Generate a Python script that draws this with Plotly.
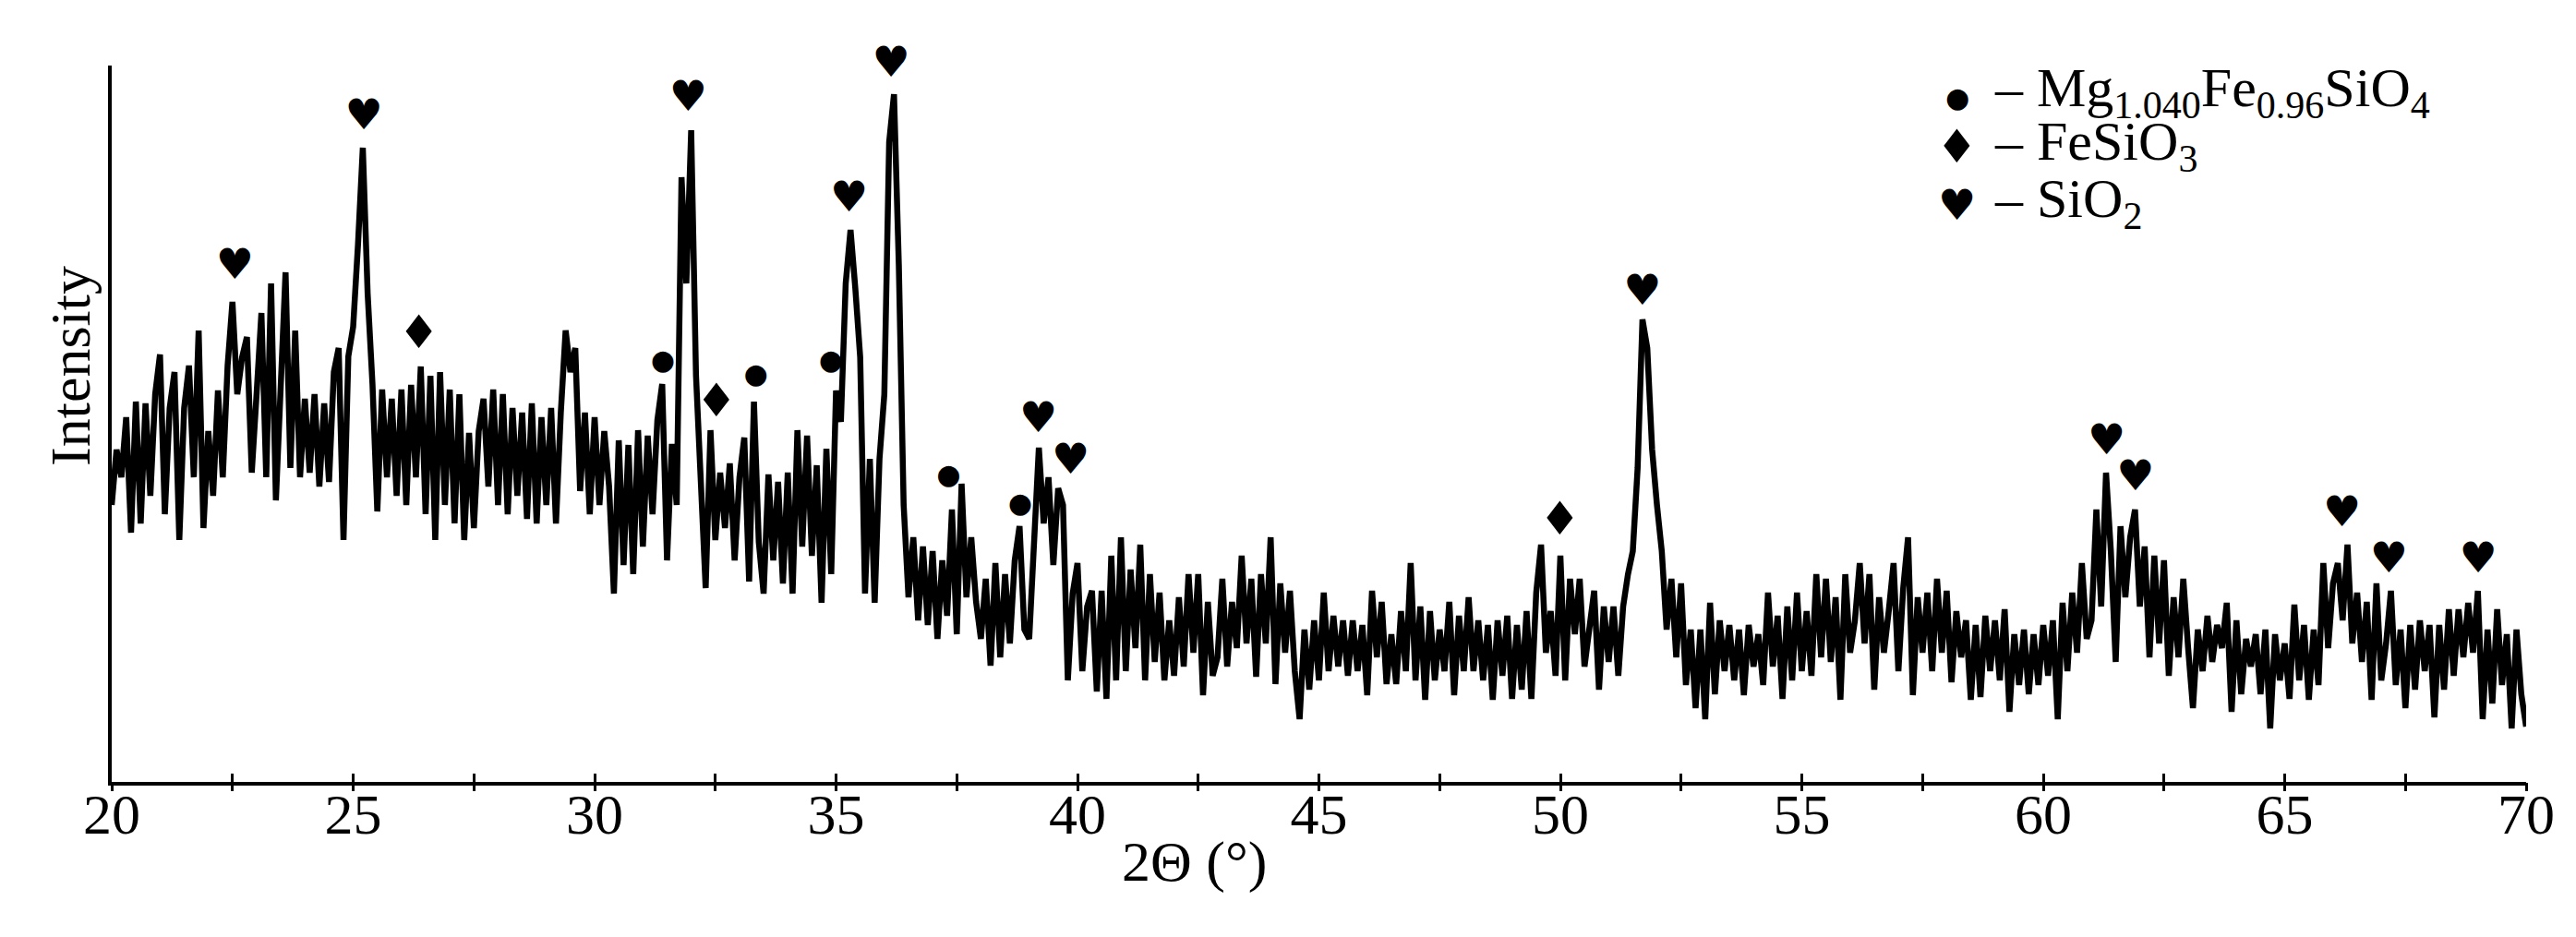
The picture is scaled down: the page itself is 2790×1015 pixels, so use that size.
import numpy as np
import plotly.graph_objects as go

# XRD pattern, 0.1 deg steps from 20.0 to 70.0 (arb. units)
two_theta_start = 20.0
two_theta_step = 0.1

intensity_20_30 = [
    300, 360, 330, 395, 270, 412, 280, 410, 310, 420,
    463, 290, 405, 444, 262, 405, 451, 330, 489, 275,
    380, 310, 424, 330, 451, 520, 420, 460, 482, 335,
    420, 508, 330, 540, 305, 420, 552, 340, 489, 330,
    415, 335, 420, 320, 410, 325, 444, 470, 262, 461,
    493, 582, 687, 529, 431, 293, 425, 330, 415, 310,
    425, 300, 430, 330, 450, 290, 440, 262, 444, 300,
    425, 280, 420, 262, 378, 275, 380, 415, 320, 425,
    300, 420, 290, 405, 310, 400, 285, 410, 280, 395,
    300, 405, 280, 400, 489, 444, 470, 315, 400, 290,
]
intensity_30_40 = [
    395, 300, 380, 320, 204, 370, 235, 365, 225, 381,
    255, 375, 290, 392, 431, 240, 366, 300, 655, 540,
    706, 440, 313, 210, 381, 262, 335, 275, 345, 240,
    330, 373, 217, 412, 260, 204, 333, 240, 325, 215,
    335, 204, 381, 255, 375, 245, 343, 194, 361, 225,
    424, 390, 540, 598, 534, 460, 204, 350, 194, 350,
    420, 693, 745, 560, 300, 200, 265, 175, 255, 170,
    250, 155, 240, 180, 295, 160, 323, 200, 265, 195,
    155, 220, 126, 237, 135, 225, 150, 240, 277, 165,
    155, 255, 362, 280, 330, 235, 318, 300, 110, 204,
]
intensity_40_50 = [
    237, 120, 190, 207, 98, 207, 90, 245, 110, 265,
    120, 230, 145, 257, 110, 225, 130, 205, 110, 175,
    115, 200, 125, 225, 140, 225, 94, 195, 115, 135,
    220, 125, 195, 145, 245, 150, 220, 114, 225, 150,
    265, 106, 215, 140, 207, 120, 68, 165, 100, 175,
    110, 205, 120, 180, 125, 175, 115, 175, 120, 170,
    94, 207, 135, 195, 106, 160, 106, 185, 120, 237,
    110, 190, 89, 185, 110, 165, 120, 195, 94, 180,
    120, 200, 120, 175, 110, 170, 89, 175, 115, 180,
    90, 170, 100, 185, 90, 205, 257, 140, 185, 115,
]
intensity_50_60 = [
    245, 110, 220, 160, 220, 125, 170, 207, 100, 190,
    130, 190, 115, 190, 225, 250, 340, 501, 470, 360,
    300, 250, 165, 220, 135, 215, 105, 165, 80, 165,
    68, 194, 95, 175, 120, 170, 110, 165, 94, 170,
    125, 160, 105, 205, 125, 180, 90, 190, 110, 205,
    120, 185, 115, 225, 135, 220, 130, 200, 89, 225,
    140, 175, 237, 150, 225, 100, 200, 140, 185, 237,
    120, 210, 265, 94, 200, 140, 205, 120, 220, 140,
    207, 108, 185, 135, 175, 89, 170, 92, 180, 120,
    175, 110, 187, 76, 160, 105, 165, 95, 160, 105,
]
intensity_60_70 = [
    170, 115, 175, 68, 194, 120, 205, 140, 237, 155,
    175, 295, 190, 335, 250, 130, 277, 200, 265, 295,
    190, 255, 135, 245, 150, 240, 115, 200, 135, 220,
    145, 80, 165, 120, 180, 130, 170, 145, 194, 76,
    175, 95, 155, 125, 160, 95, 165, 58, 160, 110,
    150, 90, 192, 110, 170, 89, 165, 105, 237, 145,
    215, 237, 175, 257, 150, 205, 130, 195, 89, 215,
    110, 150, 207, 105, 165, 80, 170, 100, 175, 120,
    170, 70, 170, 100, 187, 115, 187, 135, 194, 140,
    207, 68, 165, 85, 187, 105, 160, 58, 165, 95,
    60,
]

# phase markers (peak position, marker height)
sio2_2theta = [22.55, 25.22, 31.94, 35.27, 36.14, 39.19, 39.86, 51.70, 61.31, 61.91, 66.19, 67.16, 69.01]
sio2_height = [557, 719, 739, 630, 776, 391, 346, 529, 367, 328, 289, 239, 239]
olivine_2theta = [31.41, 33.34, 34.89, 37.33, 38.81]
olivine_height = [455, 440, 455, 331, 300]
fesio3_2theta = [26.36, 32.52, 49.99]
fesio3_height = [483, 409, 281]

legend_symbols = ["●", "♦", "♥"]
legend_labels = [
    "– Mg<sub>1.040</sub>Fe<sub>0.96</sub>SiO<sub>4</sub>",
    "– FeSiO<sub>3</sub>",
    "– SiO<sub>2</sub>",
]

intensity = intensity_20_30 + intensity_30_40 + intensity_40_50 + intensity_50_60 + intensity_60_70
two_theta = np.round(two_theta_start + two_theta_step * np.arange(len(intensity)), 2)

SERIF = "Liberation Serif"
SYMBOL_FONT = "DejaVu Sans"

fig = go.Figure()
fig.add_trace(go.Scatter(
    x=two_theta, y=intensity, mode="lines",
    line=dict(color="black", width=6.5), showlegend=False,
))


def marker_trace(x, y, glyph, size):
    return go.Scatter(
        x=x, y=y, mode="text", text=[glyph] * len(x),
        textposition="middle center", cliponaxis=False,
        textfont=dict(family=SYMBOL_FONT, size=size, color="black"),
        showlegend=False, hoverinfo="skip",
    )


fig.add_trace(marker_trace(sio2_2theta, sio2_height, "♥", 46))
fig.add_trace(marker_trace(olivine_2theta, olivine_height, "●", 30))
fig.add_trace(marker_trace(fesio3_2theta, fesio3_height, "♦", 50))

# second axis only to draw the outer half of the crossing ticks
fig.add_trace(go.Scatter(x=[20, 70], y=[0, 0], xaxis="x2", mode="lines",
                         line=dict(width=0), showlegend=False, hoverinfo="skip"))

legend_rows = [742, 688, 625]
legend_text_rows = [748, 690, 628]
legend_sizes = [30, 50, 46]
for sym, lab, ys, yt, sz in zip(legend_symbols, legend_labels, legend_rows, legend_text_rows, legend_sizes):
    fig.add_annotation(x=58.22, y=ys, text=sym, showarrow=False, xanchor="center", yanchor="middle",
                       font=dict(family=SYMBOL_FONT, size=sz, color="black"))
    fig.add_annotation(x=58.95, y=yt, text=lab, showarrow=False, xanchor="left", yanchor="middle",
                       font=dict(family=SERIF, size=60, color="black"))

fig.add_annotation(x=42.41, y=-0.112, yref="paper", text="2Θ (°)", showarrow=False,
                   xanchor="center", yanchor="middle", font=dict(family=SERIF, size=62, color="black"))
fig.add_annotation(x=-0.0172, y=0.58, xref="paper", yref="paper", text="Intensity", textangle=-90,
                   showarrow=False, xanchor="center", yanchor="middle",
                   font=dict(family=SERIF, size=62, color="black"))

fig.update_layout(
    width=2790, height=1015,
    margin=dict(l=113, r=62, t=63, b=176),
    paper_bgcolor="white", plot_bgcolor="white",
    font=dict(family=SERIF, size=62, color="black"),
    xaxis=dict(
        range=[20, 70], tickmode="linear", tick0=20, dtick=5,
        ticks="inside", ticklen=9, tickwidth=3, tickcolor="black",
        minor=dict(dtick=2.5, ticks="inside", ticklen=9, tickwidth=3, tickcolor="black"),
        ticklabelstandoff=-22,
        showline=True, linewidth=4, linecolor="black",
        showgrid=False, zeroline=False,
        tickfont=dict(family=SERIF, size=62, color="black"),
    ),
    xaxis2=dict(
        range=[20, 70], overlaying="x", side="bottom", anchor="y",
        tickmode="linear", tick0=20, dtick=2.5, ticks="outside", ticklen=9, tickwidth=3,
        tickcolor="black", showticklabels=False, showline=False, showgrid=False, zeroline=False,
    ),
    yaxis=dict(
        range=[0, 776], showticklabels=False, ticks="",
        showline=True, linewidth=4, linecolor="black",
        showgrid=False, zeroline=False,
    ),
)

fig.write_html("out.html")
